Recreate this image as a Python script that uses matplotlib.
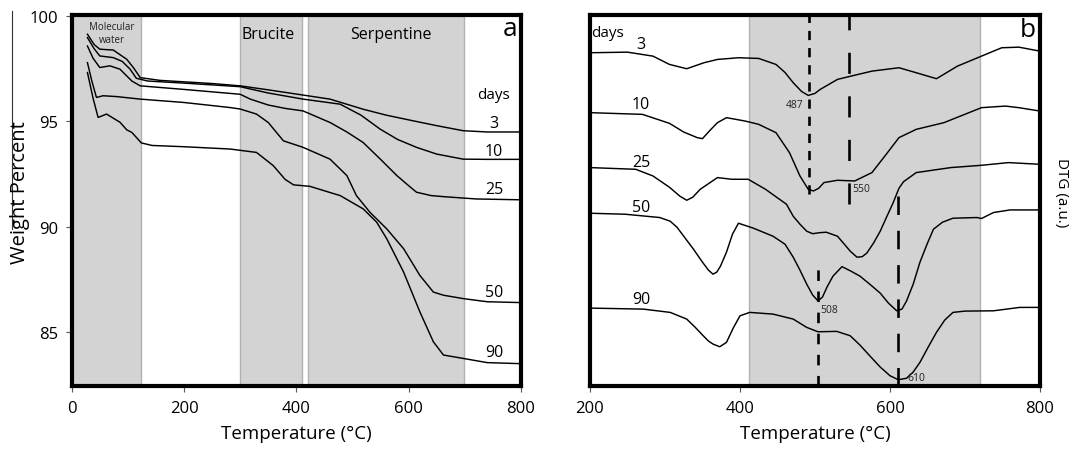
import matplotlib
matplotlib.use("Agg")
import matplotlib.pyplot as plt
from matplotlib.lines import Line2D

plt.rcParams['font.family'] = ['Open Sans', 'DejaVu Sans']

# ---- panel a : TGA, weight percent vs temperature ----
t3 = [28, 40, 50, 74, 98, 110, 122, 157, 250, 300, 350, 400, 460, 519, 560, 608, 650, 697, 740, 800]
w3 = [99.14, 98.65, 98.43, 98.39, 97.95, 97.55, 97.08, 96.95, 96.8, 96.69, 96.5, 96.3, 96.06, 95.58, 95.3, 95.03, 94.8, 94.56, 94.5, 94.5]

t10 = [28, 40, 50, 74, 90, 104, 115, 135, 200, 300, 350, 412, 478, 515, 549, 580, 614, 650, 697, 740, 800]
w10 = [98.98, 98.45, 98.11, 98.03, 97.85, 97.48, 97.05, 96.92, 96.82, 96.65, 96.35, 96.06, 95.82, 95.3, 94.64, 94.15, 93.77, 93.45, 93.21, 93.2, 93.2]

t25 = [28, 38, 50, 68, 86, 107, 122, 200, 300, 318, 350, 380, 412, 460, 490, 519, 550, 579, 600, 614, 640, 662, 720, 800]
w25 = [98.58, 98.0, 97.56, 97.64, 97.48, 96.92, 96.69, 96.52, 96.29, 96.06, 95.78, 95.62, 95.5, 94.95, 94.5, 94.0, 93.2, 92.43, 91.95, 91.64, 91.48, 91.43, 91.32, 91.28]

t50 = [28, 36, 44, 56, 80, 122, 200, 282, 300, 329, 350, 377, 412, 460, 490, 507, 531, 561, 591, 620, 644, 662, 697, 740, 800]
w50 = [97.79, 96.9, 96.14, 96.22, 96.18, 96.06, 95.9, 95.66, 95.59, 95.35, 94.95, 94.08, 93.77, 93.21, 92.43, 91.48, 90.69, 89.9, 88.96, 87.69, 86.9, 86.75, 86.59, 86.44, 86.4]

t90 = [28, 38, 47, 62, 86, 98, 107, 124, 143, 200, 282, 329, 359, 380, 395, 424, 478, 519, 543, 561, 591, 620, 644, 662, 697, 740, 800]
w90 = [97.32, 96.1, 95.19, 95.35, 94.96, 94.6, 94.48, 93.98, 93.86, 93.8, 93.69, 93.53, 92.9, 92.25, 91.99, 91.92, 91.48, 90.85, 90.22, 89.43, 87.85, 85.96, 84.54, 83.91, 83.75, 83.55, 83.5]

tga = [(t3, w3, '3', 94.92), (t10, w10, '10', 93.61), (t25, w25, '25', 91.77),
       (t50, w50, '50', 86.91), (t90, w90, '90', 84.04)]

# ---- panel b : DTG curves (arbitrary units, offset) ----
d3_x = [200, 250, 284, 306, 329, 352, 370, 398, 425, 448, 460, 471, 482, 491, 500, 507, 530, 548, 576, 612, 635, 662, 690, 722, 749, 772, 800]
d3_y = [33.37, 33.43, 33.03, 32.2, 31.77, 32.37, 32.7, 32.87, 32.8, 32.2, 31.4, 30.37, 29.5, 29.1, 29.3, 29.7, 30.7, 31.03, 31.53, 31.87, 31.37, 30.77, 32.03, 33.03, 33.87, 33.93, 33.53]

d10_x = [200, 270, 306, 325, 343, 350, 360, 370, 382, 407, 425, 448, 466, 480, 491, 498, 505, 512, 530, 553, 576, 595, 612, 635, 672, 722, 754, 772, 800]
d10_y = [27.37, 27.2, 26.3, 25.43, 24.87, 24.77, 25.6, 26.37, 26.87, 26.53, 26.2, 25.37, 23.37, 21.03, 19.7, 19.53, 19.8, 20.37, 20.6, 20.53, 21.37, 23.2, 24.87, 25.7, 26.37, 27.87, 28.03, 27.87, 27.53]

d25_x = [200, 261, 284, 306, 320, 329, 337, 347, 370, 389, 411, 434, 462, 471, 480, 489, 497, 506, 515, 530, 538, 547, 556, 563, 569, 578, 587, 596, 604, 612, 618, 635, 681, 722, 758, 800]
d25_y = [21.87, 21.7, 21.03, 19.9, 19.0, 18.6, 18.9, 19.7, 20.87, 20.7, 20.7, 19.7, 18.2, 17.0, 16.2, 15.5, 15.25, 15.35, 15.4, 15.0, 14.3, 13.5, 12.9, 12.95, 13.3, 14.3, 15.5, 17.0, 18.3, 19.8, 20.45, 21.37, 21.87, 22.1, 22.37, 22.2]

d50_x = [200, 247, 293, 307, 316, 327, 338, 350, 358, 364, 369, 374, 382, 390, 398, 418, 444, 460, 471, 480, 489, 497, 504, 510, 516, 524, 536, 548, 560, 573, 587, 598, 609, 616, 622, 631, 640, 650, 658, 670, 684, 716, 722, 738, 760, 800]
d50_y = [17.3, 17.2, 16.87, 16.5, 15.9, 14.8, 13.7, 12.4, 11.6, 11.2, 11.4, 12.0, 13.4, 15.2, 16.3, 15.8, 15.0, 14.2, 12.9, 11.6, 10.2, 9.1, 8.53, 8.9, 9.9, 11.0, 11.95, 11.5, 11.0, 10.2, 9.3, 8.3, 7.53, 7.7, 8.5, 10.2, 12.4, 14.3, 15.7, 16.4, 16.8, 16.87, 16.77, 17.37, 17.63, 17.63]

d90_x = [200, 271, 307, 329, 340, 351, 358, 364, 373, 382, 391, 400, 413, 444, 471, 489, 504, 529, 547, 560, 573, 587, 600, 611, 622, 631, 640, 651, 662, 673, 684, 700, 738, 773, 800]
d90_y = [7.8, 7.7, 7.37, 6.7, 5.9, 5.03, 4.5, 4.2, 3.93, 4.37, 5.8, 7.03, 7.37, 7.2, 6.7, 5.87, 5.43, 5.47, 5.03, 4.1, 3.03, 1.9, 1.03, 0.63, 0.77, 1.4, 2.37, 3.9, 5.37, 6.6, 7.37, 7.5, 7.53, 7.87, 7.87]

dtg = [(d3_x, d3_y, '3', 34.2), (d10_x, d10_y, '10', 28.2), (d25_x, d25_y, '25', 22.4),
       (d50_x, d50_y, '50', 17.9), (d90_x, d90_y, '90', 8.7)]

# peak markers: position, label, y-range, dash style, label pos
peaks = [(492, '487', (19.2, 37.1), (3.5, 3.0), (484, 28.2, 'right')),
         (546, '550', (18.2, 37.1), (8.0, 8.5), (550, 19.8, 'left')),
         (504, '508', (0.0, 11.7), (4.0, 4.0), (507, 7.7, 'left')),
         (611, '610', (0.0, 19.4), (7.0, 6.0), (623, 0.85, 'left'))]

shade = '#d3d3d3'
edge = '#b2b2b2'

fig = plt.figure(figsize=(10.77, 4.52), dpi=100)
axa = fig.add_axes([0.0666, 0.1438, 0.4171, 0.8197])
axb = fig.add_axes([0.5478, 0.1438, 0.4178, 0.8197])

# panel a
for lo, hi in [(0, 123), (300, 410), (421, 699)]:
    axa.axvspan(lo, hi, facecolor=shade, edgecolor=edge, lw=1, zorder=0)
for t, w, lab, ly in tga:
    axa.plot(t, w, color='black', lw=1.05)
    axa.text(752, ly, lab, ha='center', va='center', fontsize=11.5)
axa.text(752, 96.29, 'days', ha='center', va='center', fontsize=11)
axa.text(72, 99.2, 'Molecular\nwater', ha='center', va='center', fontsize=7,
         linespacing=1.35, color='#222222')
axa.text(350, 99.13, 'Brucite', ha='center', va='center', fontsize=11.5)
axa.text(568, 99.13, 'Serpentine', ha='center', va='center', fontsize=11.5)
axa.text(780, 99.4, 'a', ha='center', va='center', fontsize=19)
axa.set_xlim(0, 800)
axa.set_ylim(82.44, 100.03)
axa.set_xticks([0, 200, 400, 600, 800])
axa.set_yticks([85, 90, 95, 100])

# panel b
axb.axvspan(412, 720, facecolor=shade, edgecolor=edge, lw=1, zorder=0)
for x, y, lab, ly in dtg:
    axb.plot(x, y, color='black', lw=1.05)
    axb.text(268, ly, lab, ha='center', va='center', fontsize=11.5)
axb.text(202, 35.4, 'days', ha='left', va='center', fontsize=11)
for xp, lab, (y0, y1), dash, (tx, ty, ha) in peaks:
    axb.plot([xp, xp], [y0, y1], color='black', lw=1.9, dashes=dash)
    axb.text(tx, ty, lab, ha=ha, va='center', fontsize=7.5, color='#222222')
axb.text(784, 35.7, 'b', ha='center', va='center', fontsize=19)
axb.set_xlim(200, 800)
axb.set_ylim(0, 37.1)
axb.set_xticks([200, 400, 600, 800])
axb.set_yticks([])

for ax in (axa, axb):
    for s in ax.spines.values():
        s.set_linewidth(3)
    ax.tick_params(direction='out', length=4, width=0.8, color='#555555',
                   labelsize=12, pad=6)
    ax.set_xlabel('Temperature (°C)', fontsize=13.5, labelpad=6)

fig.text(0.019, 0.573, 'Weight Percent', rotation=90, ha='center', va='center', fontsize=14.5)
fig.text(0.986, 0.573, 'DTG (a.u.)', rotation=270, ha='center', va='center', fontsize=11)
fig.add_artist(Line2D([0.011, 0.011], [1 - 12 / 452, 1 - 230 / 452], color='#333333', lw=0.8))

fig.savefig('out.png', dpi=100)
